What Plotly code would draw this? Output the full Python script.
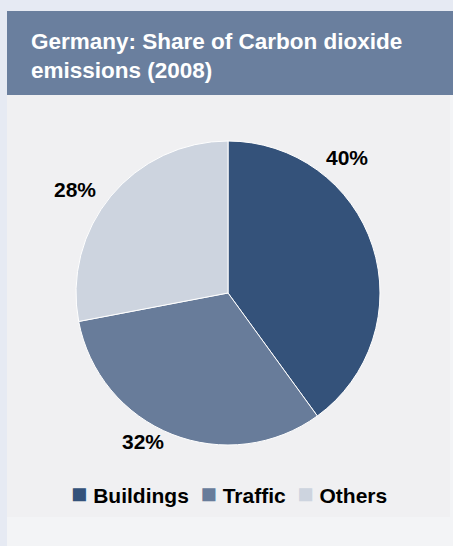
import plotly.graph_objects as go

W, H = 453, 546

categories = ["Buildings", "Traffic", "Others"]
shares = [40, 32, 28]
label_texts = ["40%", "32%", "28%"]
colors = ["#34527a", "#687c9a", "#cdd4df"]

title_text = "Germany: Share of Carbon dioxide<br>emissions (2008)"

def px_x(x):
    return x / W

def px_y(y):
    return 1 - y / H

font_family = "Liberation Sans, Arial, sans-serif"

fig = go.Figure(
    go.Pie(
        labels=categories,
        values=shares,
        sort=False,
        direction="clockwise",
        rotation=0,
        marker=dict(colors=colors, line=dict(color="#ffffff", width=1)),
        textinfo="none",
        hoverinfo="label+percent",
        showlegend=False,
        domain=dict(x=[px_x(76), px_x(380)], y=[px_y(445), px_y(141)]),
    )
)

shapes = [
    dict(type="rect", xref="paper", yref="paper", x0=px_x(7), x1=1, y0=px_y(546), y1=px_y(11),
         fillcolor="#f3f4f6", line=dict(width=0), layer="below"),
    dict(type="rect", xref="paper", yref="paper", x0=px_x(7), x1=px_x(450), y0=px_y(517), y1=px_y(95),
         fillcolor="#f0f0f2", line=dict(width=0), layer="below"),
    dict(type="rect", xref="paper", yref="paper", x0=px_x(7), x1=1, y0=px_y(95), y1=px_y(11),
         fillcolor="#6a7f9e", line=dict(width=0), layer="below"),
]

label_pos = [(347, 157), (143, 441), (75, 189)]
annotations = [
    dict(text="<b>%s</b>" % title_text, xref="paper", yref="paper", x=px_x(29), y=px_y(56),
         xanchor="left", yanchor="middle", align="left", showarrow=False,
         font=dict(family=font_family, size=22.5, color="#ffffff")),
]
for t, (lx, ly) in zip(label_texts, label_pos):
    annotations.append(dict(text="<b>%s</b>" % t, xref="paper", yref="paper", x=px_x(lx), y=px_y(ly),
                            xanchor="center", yanchor="middle", showarrow=False,
                            font=dict(family=font_family, size=21, color="#000000")))

# legend built from the category and colour lists
legend_parts = []
for name, col in zip(categories, colors):
    legend_parts.append("<span style='color:%s;font-size:27px'>■</span> <b>%s</b>" % (col, name))
annotations.append(dict(text="&nbsp;&nbsp;".join(legend_parts), xref="paper", yref="paper",
                        x=px_x(229), y=px_y(494), xanchor="center", yanchor="middle",
                        showarrow=False,
                        font=dict(family=font_family, size=21, color="#000000")))

fig.update_layout(
    width=W, height=H,
    margin=dict(l=0, r=0, t=0, b=0),
    paper_bgcolor="#e6eaf3",
    plot_bgcolor="rgba(0,0,0,0)",
    shapes=shapes,
    annotations=annotations,
    showlegend=False,
    font=dict(family=font_family),
)

fig.write_html("out.html", config={"displayModeBar": False},
               post_script="document.body.style.margin='0';document.body.style.overflow='hidden';")
